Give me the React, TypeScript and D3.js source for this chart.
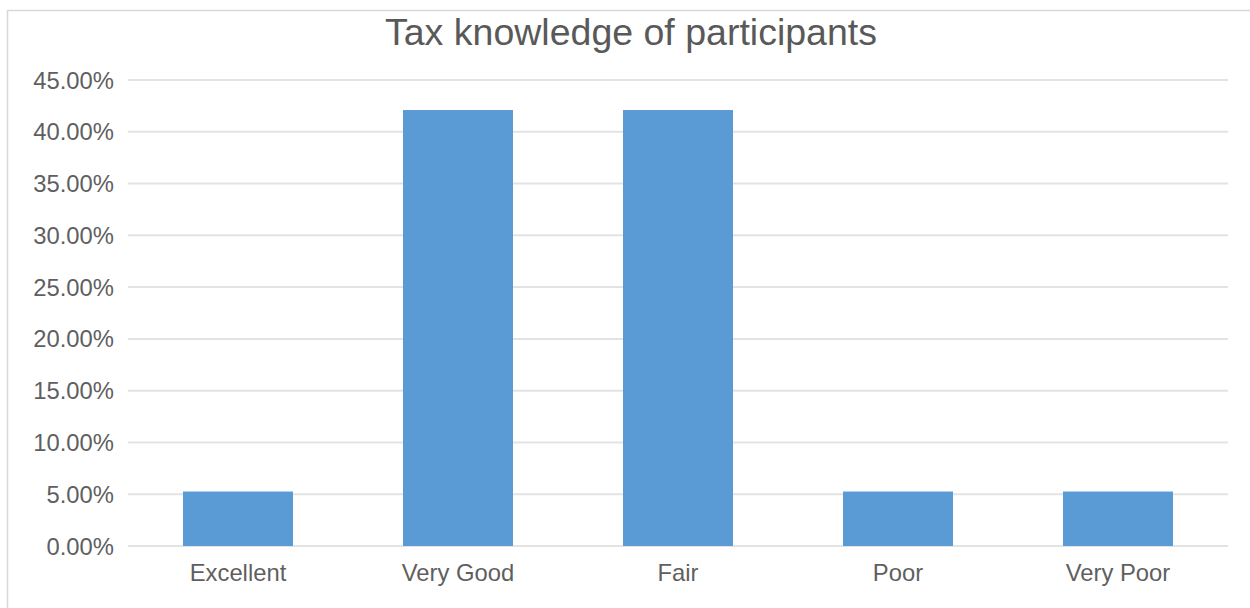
import React from "react";
import * as d3 from "d3";

const categories = ["Excellent", "Very Good", "Fair", "Poor", "Very Poor"];
const values = [0.0526, 0.421, 0.421, 0.0526, 0.0526];
const yTicks = [0, 0.05, 0.1, 0.15, 0.2, 0.25, 0.3, 0.35, 0.4, 0.45];
const title = "Tax knowledge of participants";

export default function App() {
  const W = 1250, H = 608;
  const left = 128, right = 1228, top = 80, bottom = 546;
  const x = d3.scaleBand<string>().domain(categories).range([left, right]).paddingInner(0.5).paddingOuter(0.25);
  const y = d3.scaleLinear().domain([0, 0.45]).range([bottom, top]);
  const fmt = d3.format(".2%");
  const font = "'Liberation Sans', Arial, sans-serif";
  return (
    <svg width={W} height={H} style={{ position: "absolute", left: 0, top: 0, background: "#fff" }} fontFamily={font}>
      <rect x={7.5} y={10.5} width={W + 10} height={H + 10} fill="#fff" stroke="#d9d9d9" strokeWidth={1.5} />
      <text x={631} y={45} textAnchor="middle" fontSize={37.5} fill="#595959">{title}</text>
      {yTicks.map((t) => (
        <g key={t}>
          <line x1={left} x2={right} y1={y(t)} y2={y(t)} stroke="#e3e3e3" strokeWidth={2} />
          <text x={114} y={y(t)} dy="0.36em" textAnchor="end" fontSize={23.8} fill="#5f5f5f">{fmt(t)}</text>
        </g>
      ))}
      {categories.map((c, i) => (
        <rect key={c} x={x(c)} y={y(values[i])} width={x.bandwidth()} height={y(0) - y(values[i])} fill="#5b9bd5" />
      ))}
      {categories.map((c) => (
        <text key={c} x={(x(c) as number) + x.bandwidth() / 2} y={581} textAnchor="middle" fontSize={23.8} fill="#5f5f5f">{c}</text>
      ))}
    </svg>
  );
}
